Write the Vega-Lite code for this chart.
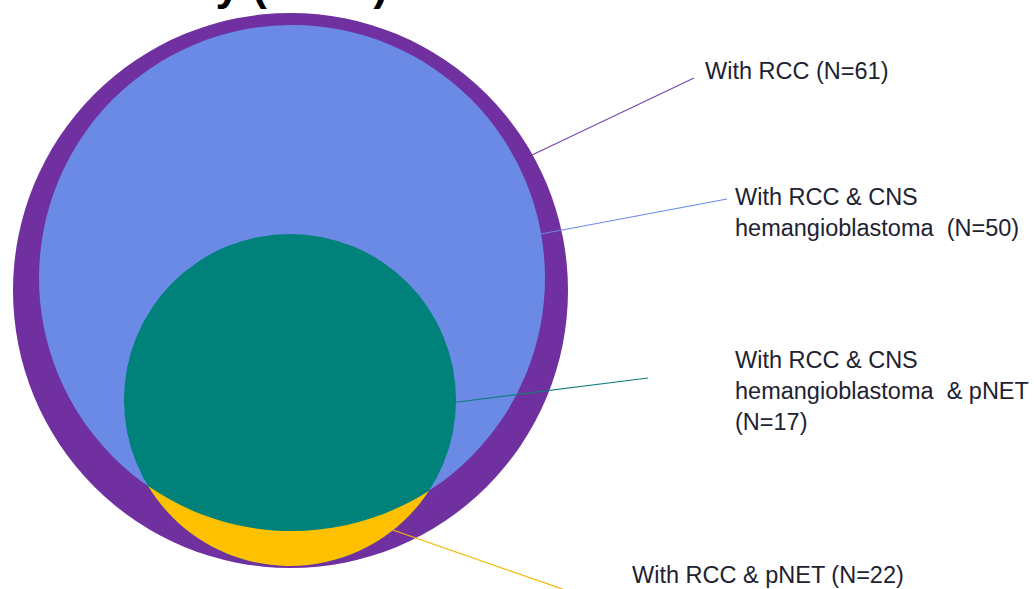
{
  "$schema": "https://vega.github.io/schema/vega-lite/v6.json",
  "width": 1034,
  "height": 589,
  "padding": 0,
  "autosize": {"type": "none"},
  "background": "white",
  "config": {"view": {"stroke": null}},
  "datasets": {
    "sets": [
      {"set": "With RCC", "N": 61, "cx": 290.5, "cy": 290.5},
      {"set": "With RCC & CNS hemangioblastoma", "N": 50, "cx": 292, "cy": 278},
      {"set": "With RCC & pNET", "N": 22, "cx": 290, "cy": 400},
      {"set": "With RCC & CNS hemangioblastoma & pNET", "N": 17, "cx": 290, "cy": 400}
    ],
    "leaders": [
      {"set": "With RCC", "x1": 532, "y1": 155, "x2": 694, "y2": 78},
      {"set": "With RCC & CNS hemangioblastoma", "x1": 525, "y1": 237, "x2": 727, "y2": 199},
      {"set": "With RCC & CNS hemangioblastoma & pNET", "x1": 450, "y1": 403, "x2": 648, "y2": 378},
      {"set": "With RCC & pNET", "x1": 390, "y1": 529, "x2": 594, "y2": 600}
    ],
    "labels": [
      {"set": "With RCC", "label": "With RCC (N=61)", "lx": 705, "ly": 79},
      {"set": "With RCC & CNS hemangioblastoma", "label": "With RCC & CNS\nhemangioblastoma\u00a0 (N=50)", "lx": 735, "ly": 205},
      {"set": "With RCC & CNS hemangioblastoma & pNET", "label": "With RCC & CNS\nhemangioblastoma\u00a0 & pNET\n(N=17)", "lx": 735, "ly": 368},
      {"set": "With RCC & pNET", "label": "With RCC & pNET (N=22)", "lx": 632, "ly": 583}
    ],
    "title": [
      {"label": "VHL Cohort Summary (N=61)", "lx": 388, "ly": 0}
    ]
  },
  "layer": [
    {
      "data": {"name": "sets"},
      "transform": [{"filter": "datum.N === 61"}],
      "mark": {"type": "point", "shape": "circle", "filled": true, "opacity": 1, "size": 308025, "color": "#7030A0", "strokeWidth": 0},
      "encoding": {
        "x": {"field": "cx", "type": "quantitative", "scale": {"domain": [0, 1034], "nice": false, "zero": false}, "axis": null},
        "y": {"field": "cy", "type": "quantitative", "scale": {"domain": [0, 589], "reverse": true, "nice": false, "zero": false}, "axis": null}
      }
    },
    {
      "data": {"name": "sets"},
      "transform": [{"filter": "datum.N === 50"}],
      "mark": {"type": "point", "shape": "circle", "filled": true, "opacity": 1, "size": 256036, "color": "#6A8AE6", "strokeWidth": 0},
      "encoding": {
        "x": {"field": "cx", "type": "quantitative", "scale": {"domain": [0, 1034], "nice": false, "zero": false}, "axis": null},
        "y": {"field": "cy", "type": "quantitative", "scale": {"domain": [0, 589], "reverse": true, "nice": false, "zero": false}, "axis": null}
      }
    },
    {
      "data": {"name": "sets"},
      "transform": [{"filter": "datum.N === 17"}],
      "mark": {"type": "point", "shape": "circle", "filled": true, "opacity": 1, "size": 110224, "color": "#00827A", "strokeWidth": 0},
      "encoding": {
        "x": {"field": "cx", "type": "quantitative", "scale": {"domain": [0, 1034], "nice": false, "zero": false}, "axis": null},
        "y": {"field": "cy", "type": "quantitative", "scale": {"domain": [0, 589], "reverse": true, "nice": false, "zero": false}, "axis": null}
      }
    },
    {
      "data": {"name": "sets"},
      "transform": [{"filter": "datum.N === 22"}],
      "mark": {"type": "point", "shape": "M -141.9 86.1 A 166 166 0 0 0 139 90.7 A 253 253 0 0 1 -141.9 86.1 Z", "filled": true, "opacity": 1, "size": 4, "color": "#FFC000", "strokeWidth": 0},
      "encoding": {
        "x": {"field": "cx", "type": "quantitative", "scale": {"domain": [0, 1034], "nice": false, "zero": false}, "axis": null},
        "y": {"field": "cy", "type": "quantitative", "scale": {"domain": [0, 589], "reverse": true, "nice": false, "zero": false}, "axis": null}
      }
    },
    {
      "data": {"name": "leaders"},
      "mark": {"type": "rule", "strokeWidth": 1.2},
      "encoding": {
        "x": {"field": "x1", "type": "quantitative", "scale": {"domain": [0, 1034], "nice": false, "zero": false}, "axis": null},
        "y": {"field": "y1", "type": "quantitative", "scale": {"domain": [0, 589], "reverse": true, "nice": false, "zero": false}, "axis": null},
        "x2": {"field": "x2"},
        "y2": {"field": "y2"},
        "color": {
          "field": "set", "type": "nominal", "legend": null,
          "scale": {
            "domain": ["With RCC", "With RCC & CNS hemangioblastoma", "With RCC & CNS hemangioblastoma & pNET", "With RCC & pNET"],
            "range": ["#7B45AE", "#6A8AE6", "#137E7C", "#F2B800"]
          }
        }
      }
    },
    {
      "data": {"name": "labels"},
      "mark": {"type": "text", "align": "left", "baseline": "alphabetic", "font": "Liberation Sans", "fontSize": 23.5, "lineBreak": "\n", "lineHeight": 31, "color": "#1E2231"},
      "encoding": {
        "x": {"field": "lx", "type": "quantitative", "scale": {"domain": [0, 1034], "nice": false, "zero": false}, "axis": null},
        "y": {"field": "ly", "type": "quantitative", "scale": {"domain": [0, 589], "reverse": true, "nice": false, "zero": false}, "axis": null},
        "text": {"field": "label"}
      }
    },
    {
      "data": {"name": "title"},
      "mark": {"type": "text", "align": "right", "baseline": "alphabetic", "font": "Liberation Sans", "fontSize": 44, "fontWeight": "bold", "color": "#000000"},
      "encoding": {
        "x": {"field": "lx", "type": "quantitative", "scale": {"domain": [0, 1034], "nice": false, "zero": false}, "axis": null},
        "y": {"field": "ly", "type": "quantitative", "scale": {"domain": [0, 589], "reverse": true, "nice": false, "zero": false}, "axis": null},
        "text": {"field": "label"}
      }
    }
  ]
}
